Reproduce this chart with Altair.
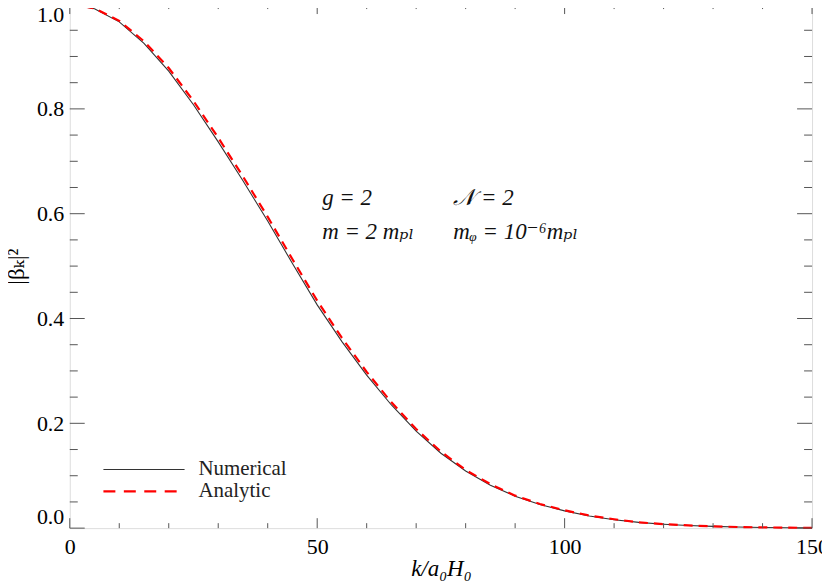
import altair as alt
import pandas as pd

# ---- data ----
k_vals = [0, 5, 10, 15, 20, 25, 30, 35, 40, 45, 50, 55, 60, 65, 70, 75, 80, 85,
          90, 95, 100, 105, 110, 115, 120, 125, 130, 135, 140, 145, 150]
numerical = [1.000, 0.991, 0.966, 0.925, 0.872, 0.808, 0.737, 0.663, 0.586, 0.505,
             0.426, 0.356, 0.292, 0.235, 0.185, 0.143, 0.109, 0.082, 0.061, 0.045,
             0.033, 0.023, 0.016, 0.011, 0.0075, 0.005, 0.0033, 0.0021, 0.0013,
             0.0008, 0.0005]
analytic = [1.000, 0.992, 0.968, 0.929, 0.878, 0.815, 0.745, 0.671, 0.594, 0.513,
            0.434, 0.363, 0.298, 0.240, 0.189, 0.146, 0.111, 0.084, 0.062, 0.046,
            0.034, 0.024, 0.017, 0.011, 0.0077, 0.0051, 0.0034, 0.0022, 0.0014,
            0.0009, 0.0005]

x_major = [0, 50, 100, 150]
x_minor = [10, 20, 30, 40, 60, 70, 80, 90, 110, 120, 130, 140]
y_major = [0.0, 0.2, 0.4, 0.6, 0.8, 1.0]
y_minor = [0.05, 0.1, 0.15, 0.25, 0.3, 0.35, 0.45, 0.5, 0.55, 0.65, 0.7, 0.75,
           0.85, 0.9, 0.95]

legend_labels = ["Numerical", "Analytic"]
legend_y = [0.112, 0.070]
legend_x = [6.8, 23.2, 26.0]

ann_text = ["g = 2", "𝒩 = 2", "m = 2 mₚₗ", "mᵩ = 10⁻⁶mₚₗ"]
ann_k = [51.0, 77.5, 51.0, 77.5]
ann_v = [0.629, 0.629, 0.565, 0.565]

W, H = 745, 526
FONT = "Liberation Serif, Times New Roman, DejaVu Serif, serif"
FRAME = "#555555"

xs = alt.Scale(domain=[0, 150], nice=False, zero=False)
ys = alt.Scale(domain=[0, 1], nice=False, zero=False)

df_num = pd.DataFrame({"k": k_vals, "v": numerical})
df_ana = pd.DataFrame({"k": k_vals, "v": analytic})

base_x = alt.X("k:Q", scale=xs,
               axis=alt.Axis(values=x_major, format="d", title="k/a₀H₀",
                             titleFont=FONT, titleFontSize=23, titleFontStyle="italic",
                             titleFontWeight="normal", titleColor="black",
                             labelFont=FONT, labelFontSize=22, labelColor="black",
                             labelPadding=8, titlePadding=1, domain=False, ticks=False,
                             grid=False, labelFlush=False))
base_y = alt.Y("v:Q", scale=ys,
               axis=alt.Axis(values=y_major, format=".1f", title="|βₖ|²",
                             titleFont=FONT, titleFontSize=23, titleFontWeight="normal",
                             titleColor="black", titlePadding=8,
                             labelFont=FONT, labelFontSize=22, labelColor="black",
                             labelPadding=6, domain=False, ticks=False, grid=False,
                             labelFlush=True))

num_line = alt.Chart(df_num).mark_line(color="#333333", strokeWidth=1.1).encode(
    x=base_x, y=base_y)
ana_line = alt.Chart(df_ana).mark_line(color="#ff0000", strokeWidth=2.2,
                                       strokeDash=[9, 6]).encode(
    x=alt.X("k:Q", scale=xs), y=alt.Y("v:Q", scale=ys))

def xticks(vals, length):
    d = pd.DataFrame({"k": vals})
    bot = alt.Chart(d).mark_rule(color=FRAME, strokeWidth=1).encode(
        x=alt.X("k:Q", scale=xs), y=alt.value(H), y2=alt.value(H - length))
    top = alt.Chart(d).mark_rule(color=FRAME, strokeWidth=1).encode(
        x=alt.X("k:Q", scale=xs), y=alt.value(0), y2=alt.value(length))
    return bot + top

def yticks(vals, length):
    d = pd.DataFrame({"v": vals})
    left = alt.Chart(d).mark_rule(color=FRAME, strokeWidth=1).encode(
        y=alt.Y("v:Q", scale=ys), x=alt.value(0), x2=alt.value(length))
    right = alt.Chart(d).mark_rule(color=FRAME, strokeWidth=1).encode(
        y=alt.Y("v:Q", scale=ys), x=alt.value(W), x2=alt.value(W - length))
    return left + right

ticks = xticks(x_major, 10) + xticks(x_minor, 5) + yticks(y_major, 15) + yticks(y_minor, 8)

leg_df = pd.DataFrame({"label": legend_labels, "y": legend_y,
                       "x0": [legend_x[0]] * 2, "x1": [legend_x[1]] * 2,
                       "xt": [legend_x[2]] * 2})
leg_num = alt.Chart(leg_df.iloc[[0]]).mark_rule(color="#333333", strokeWidth=1.1).encode(
    x=alt.X("x0:Q", scale=xs), x2="x1:Q", y=alt.Y("y:Q", scale=ys))
leg_ana = alt.Chart(leg_df.iloc[[1]]).mark_rule(color="#ff0000", strokeWidth=2.2,
                                                strokeDash=[12, 8.5]).encode(
    x=alt.X("x0:Q", scale=xs), x2="x1:Q", y=alt.Y("y:Q", scale=ys))
leg_txt = alt.Chart(leg_df).mark_text(font=FONT, fontSize=21, align="left",
                                      baseline="middle", color="#222222").encode(
    x=alt.X("xt:Q", scale=xs), y=alt.Y("y:Q", scale=ys), text="label:N")

ann_df = pd.DataFrame({"t": ann_text, "k": ann_k, "v": ann_v})
ann = alt.Chart(ann_df).mark_text(font=FONT, fontSize=23, fontStyle="italic",
                                  align="left", baseline="middle", color="#111111").encode(
    x=alt.X("k:Q", scale=xs), y=alt.Y("v:Q", scale=ys), text="t:N")

chart = alt.layer(num_line, ana_line, ticks, leg_num, leg_ana, leg_txt, ann).properties(
    width=W, height=H,
    autosize=alt.AutoSizeParams(type="none"),
    padding={"left": 62, "top": -5, "right": 10, "bottom": 52},
).configure_view(stroke=FRAME, strokeWidth=1.2).configure(background="white")

chart.save("out.html", embed_options={"renderer": "svg", "actions": False})
